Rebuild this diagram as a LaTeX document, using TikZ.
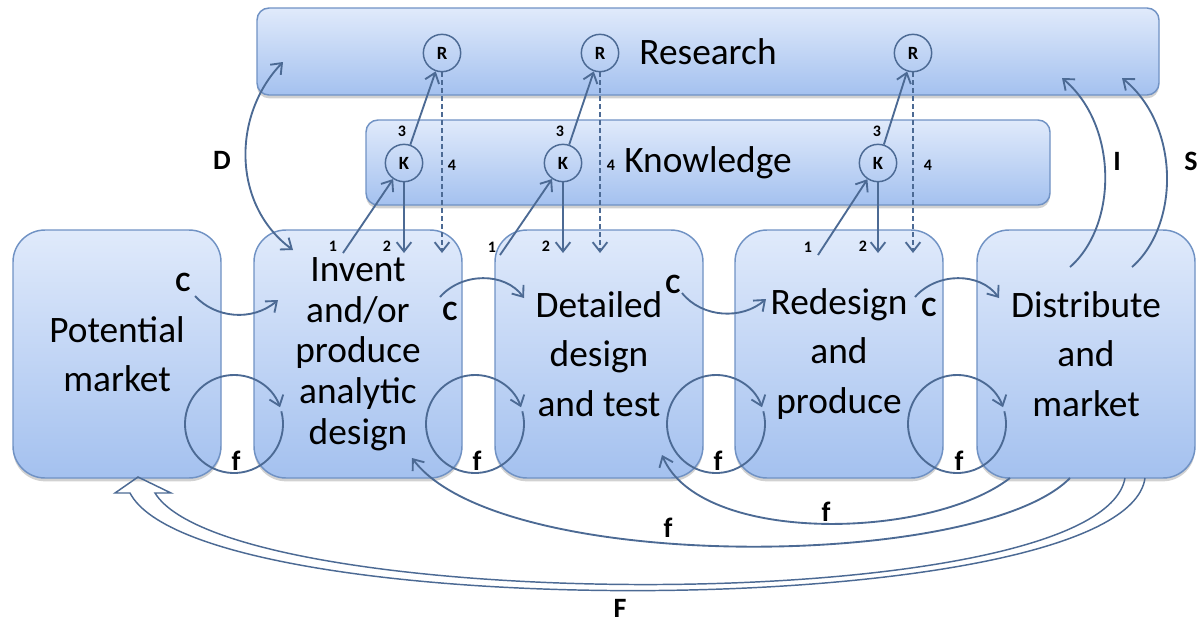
\documentclass[tikz,border=0pt]{standalone}
\usepackage{fontspec}
\setmainfont{Carlito}
\usetikzlibrary{arrows.meta,shadows}

\definecolor{boxtop}{RGB}{224,234,251}
\definecolor{boxbot}{RGB}{164,193,239}
\definecolor{boxline}{RGB}{112,146,196}
\definecolor{arrowc}{RGB}{76,106,148}

\tikzset{
  stage/.style={draw=boxline, line width=1.1pt, rounded corners=24pt, top color=boxtop, bottom color=boxbot,
    minimum width=156pt, minimum height=186pt, inner sep=0pt, align=center,
    font=\fontsize{28}{37}\selectfont,
    drop shadow={shadow xshift=0pt, shadow yshift=-2.5pt, opacity=0.3, fill=black!60}},
  band/.style={draw=boxline, line width=1.1pt, rounded corners=9pt, top color=boxtop, bottom color=boxbot,
    inner sep=0pt, font=\fontsize{28}{30}\selectfont,
    drop shadow={shadow xshift=0pt, shadow yshift=-2.5pt, opacity=0.3, fill=black!60}},
  ring/.style={circle, draw=arrowc, line width=1.1pt, minimum size=28pt, inner sep=0pt,
    font=\fontsize{14}{14}\selectfont\bfseries},
  arr/.style={draw=arrowc, line width=1.4pt, ->},
  num/.style={inner sep=0.75pt, font=\fontsize{12}{12}\selectfont\bfseries},
  lbl/.style={inner sep=0.75pt, font=\fontsize{21}{21}\selectfont\bfseries},
}

\begin{document}
\begin{tikzpicture}[x=0.75pt,y=0.75pt,yscale=-1,xscale=1,>={Straight Barb[length=7pt,width=11pt]}]
\useasboundingbox (0,0) rectangle (1200,622);

%Rounded Rect [research]
\draw (708,51.5) node [band, minimum width=676.5pt, minimum height=65.25pt] (research) {Research};
%Rounded Rect [knowledge]
\draw (708,162.5) node [band, minimum width=513pt, minimum height=63.75pt] (knowledge) {Knowledge};

%Rounded Rect [stages]
\draw (117,354) node [stage] (market) {Potential\\market};
\draw (358,354) node [stage, font=\fontsize{28}{30.5}\selectfont] (invent) {Invent\\and/or\\produce\\analytic\\design};
\draw (599,354) node [stage] (detail) {Detailed\\design\\and test};
\draw (839,354) node [stage] (redesign) {Redesign\\and\\produce};
\draw (1086,354) node [stage, minimum width=163.5pt] (distrib) {Distribute\\and\\market};

%Circles
\draw (442,53) node [ring] (R1) {R};
\draw (600,53) node [ring] (R2) {R};
\draw (913,53) node [ring] (R3) {R};
\draw (404,163) node [ring] (K1) {K};
\draw (563,163) node [ring] (K2) {K};
\draw (878,163) node [ring] (K3) {K};

%Free ends
\coordinate (s1) at (343,253);
\coordinate (t1) at (404,253);
\coordinate (d1) at (442,253);
\coordinate (s2) at (500,255);
\coordinate (t2) at (563,253);
\coordinate (d2) at (600,253);
\coordinate (s3) at (818,255);
\coordinate (t3) at (878,253);
\coordinate (d3) at (913,253);

%Straight Lines [1 2 3 4]
\draw [arr] (s1) -- (K1);
\draw [arr] (K1) -- (t1);
\draw [arr] (K1) -- (R1);
\draw [arr, dash pattern=on 3.75pt off 2.25pt] (R1) -- (d1);
\draw [arr] (s2) -- (K2);
\draw [arr] (K2) -- (t2);
\draw [arr] (K2) -- (R2);
\draw [arr, dash pattern=on 3.75pt off 2.25pt] (R2) -- (d2);
\draw [arr] (s3) -- (K3);
\draw [arr] (K3) -- (t3);
\draw [arr] (K3) -- (R3);
\draw [arr, dash pattern=on 3.75pt off 2.25pt] (R3) -- (d3);

% Text Node
\draw (333,246) node [num] (n11) {1};
\draw (387,246) node [num] (n12) {2};
\draw (402,131) node [num] (n13) {3};
\draw (452,165) node [num] (n14) {4};
\draw (492,247) node [num] (n21) {1};
\draw (546,246) node [num] (n22) {2};
\draw (560,131) node [num] (n23) {3};
\draw (611,165) node [num] (n24) {4};
\draw (808,247) node [num] (n31) {1};
\draw (863,246) node [num] (n32) {2};
\draw (877,131) node [num] (n33) {3};
\draw (928,165) node [num] (n34) {4};

%Curve Lines [D I S]
\coordinate (dTop) at (283,62);
\coordinate (dBot) at (293,250);
\draw [arr, <->] (dTop) .. controls (232,115) and (232,205) .. (dBot);
\coordinate (iStart) at (1070,267);
\coordinate (iEnd) at (1062,78);
\draw [arr] (iStart) .. controls (1118,225) and (1118,125) .. (iEnd);
\coordinate (sStart) at (1132,267);
\coordinate (sEnd) at (1122,78);
\draw [arr] (sStart) .. controls (1180,225) and (1180,125) .. (sEnd);

% Text Node
\draw (222,160) node [lbl] (lblD) {D};
\draw (1117,161) node [lbl] (lblI) {I};
\draw (1191,161) node [lbl] (lblS) {S};

%Curve Lines [C]
\coordinate (c1s) at (195,296);
\coordinate (c1e) at (278,300);
\draw [arr] (c1s) .. controls (215,318) and (252,322) .. (c1e);
\coordinate (c2s) at (440,297);
\coordinate (c2e) at (524,298);
\draw [arr] (c2s) .. controls (462,272) and (505,272) .. (c2e);
\coordinate (c3s) at (682,293);
\coordinate (c3e) at (766,299);
\draw [arr] (c3s) .. controls (702,318) and (742,320) .. (c3e);
\coordinate (c4s) at (915,297);
\coordinate (c4e) at (999,298);
\draw [arr] (c4s) .. controls (937,272) and (980,272) .. (c4e);

% Text Node
\draw (183,282) node [lbl] (lblC1) {C};
\draw (450,311) node [lbl] (lblC2) {C};
\draw (673,284) node [lbl] (lblC3) {C};
\draw (929,307) node [lbl] (lblC4) {C};

%Circle Arcs [f loops]
\coordinate (loop1) at (234,424);
\coordinate (loop2) at (475,424);
\coordinate (loop3) at (716,424);
\coordinate (loop4) at (957,424);
\draw [arr] (loop1) ++(-15:49) arc [start angle=-15, end angle=340, radius=49];
\draw [arr] (loop2) ++(-15:49) arc [start angle=-15, end angle=340, radius=49];
\draw [arr] (loop3) ++(-15:49) arc [start angle=-15, end angle=340, radius=49];
\draw [arr] (loop4) ++(-15:49) arc [start angle=-15, end angle=340, radius=49];

% Text Node
\draw (236,461) node [lbl] (lblf1) {f};
\draw (477,461) node [lbl] (lblf2) {f};
\draw (718,461) node [lbl] (lblf3) {f};
\draw (959,461) node [lbl] (lblf4) {f};

%Curve Lines [f returns]
\coordinate (fa1) at (1010,478);
\coordinate (fa2) at (662,455);
\draw [arr] (fa1) .. controls (930,540) and (700,545) .. (fa2);
\coordinate (fb1) at (1070,478);
\coordinate (fb2) at (412,458);
\draw [arr] (fb1) .. controls (980,570) and (500,575) .. (fb2);

% Text Node
\draw (826,512) node [lbl] (lblfa) {f};
\draw (668,528) node [lbl] (lblfb) {f};

%Block Arrow [F]
\coordinate (fIn) at (1125,478);
\coordinate (fOut) at (1145,478);
\coordinate (fTip) at (138,477);
\draw [draw=arrowc, line width=1.1pt, line join=miter] (fIn) .. controls (1100,620) and (230,615) .. (155,493) -- (171,493) -- (fTip) -- (115,493) -- (130,493) .. controls (200,627) and (1125,624) .. (fOut);

% Text Node
\draw (620,608) node [lbl] (lblF) {F};

\end{tikzpicture}
\end{document}
